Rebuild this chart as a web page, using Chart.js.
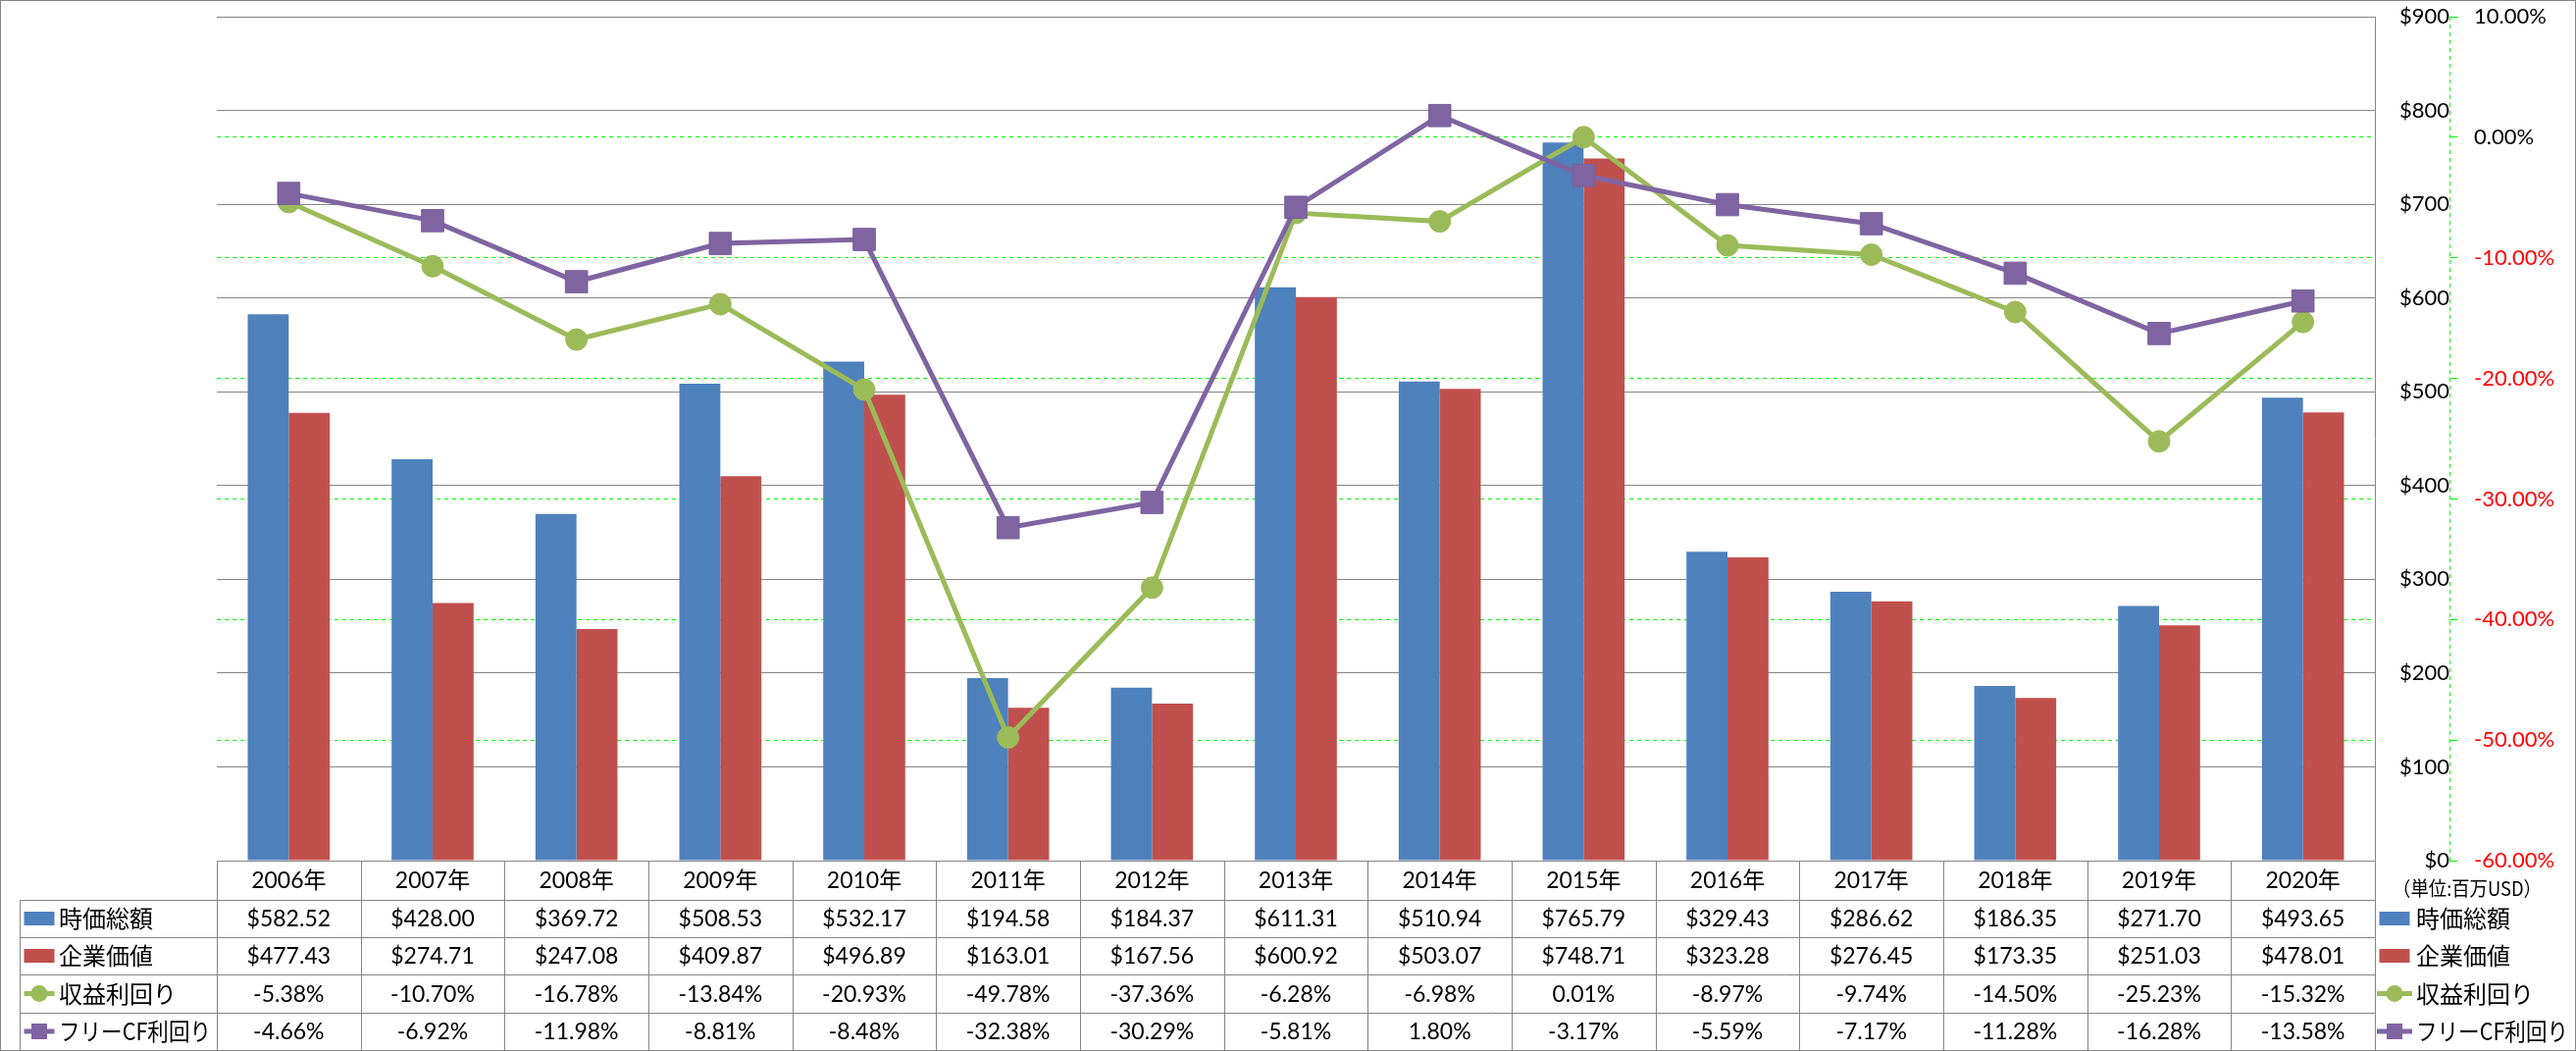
<!DOCTYPE html>
<html>
<head>
<meta charset="utf-8">
<title>時価総額・企業価値・利回り</title>
<script src="https://cdn.jsdelivr.net/npm/chart.js@4.4.1/dist/chart.umd.min.js"></script>
<style>
  html, body { margin: 0; padding: 0; background: #fff; }
  #chart { display: block; }
</style>
</head>
<body>
<canvas id="chart" width="2626" height="1071"></canvas>
<script>
// data (values in 百万USD and %)
const categories = ['2006年', '2007年', '2008年', '2009年', '2010年', '2011年', '2012年', '2013年',
                    '2014年', '2015年', '2016年', '2017年', '2018年', '2019年', '2020年'];
const marketCap = [582.52, 428.00, 369.72, 508.53, 532.17, 194.58, 184.37, 611.31,
                   510.94, 765.79, 329.43, 286.62, 186.35, 271.70, 493.65];
const enterpriseValue = [477.43, 274.71, 247.08, 409.87, 496.89, 163.01, 167.56, 600.92,
                         503.07, 748.71, 323.28, 276.45, 173.35, 251.03, 478.01];
const earningsYield = [-5.38, -10.70, -16.78, -13.84, -20.93, -49.78, -37.36, -6.28,
                       -6.98, 0.01, -8.97, -9.74, -14.50, -25.23, -15.32];
const fcfYield = [-4.66, -6.92, -11.98, -8.81, -8.48, -32.38, -30.29, -5.81,
                  1.80, -3.17, -5.59, -7.17, -11.28, -16.28, -13.58];
const seriesNames = ['時価総額', '企業価値', '収益利回り', 'フリーCF利回り'];
const dollarRange = [0, 900, 100];
const pctRange = [-60, 10, 10];
const unitNote = '（単位:百万USD）';

const colors = { blue: '#4F81BD', red: '#C0504D', green: '#9BBB59', purple: '#8064A2' };
const gridGray = '#868686';
const LATIN = "Lato, 'Noto Sans CJK JP', sans-serif";
const JP = "'Noto Sans CJK JP', sans-serif";

function squeeze(ctx, txt, x, y, sx, align) {
  ctx.save();
  ctx.translate(x, y);
  ctx.scale(sx, 1);
  ctx.textAlign = align;
  ctx.fillText(txt, 0, 0);
  ctx.restore();
}

function drawSymbol(ctx, i, cx, cy, len) {
  ctx.save();
  if (i < 2) {
    ctx.fillStyle = i === 0 ? colors.blue : colors.red;
    ctx.fillRect(cx - len / 2, cy - 7, len, 14);
  } else {
    const c = i === 2 ? colors.green : colors.purple;
    ctx.strokeStyle = c;
    ctx.fillStyle = c;
    ctx.lineWidth = 5;
    ctx.beginPath();
    ctx.moveTo(cx - len / 2, cy);
    ctx.lineTo(cx + len / 2, cy);
    ctx.stroke();
    if (i === 2) {
      ctx.beginPath();
      ctx.arc(cx, cy, 8.5, 0, Math.PI * 2);
      ctx.fill();
    } else {
      ctx.fillRect(cx - 8, cy - 8, 16, 16);
    }
  }
  ctx.restore();
}

// keep the axes from pushing the plot area down (their tick padding counts otherwise)
function fitAxis(width) {
  return s => {
    s.width = width;
    s.paddingTop = 0;
    s.paddingBottom = 0;
  };
}

const tablePlugin = {
  id: 'dataTable',
  beforeDraw(chart) {
    const ctx = chart.ctx;
    ctx.save();
    ctx.fillStyle = '#fff';
    ctx.fillRect(0, 0, chart.width, chart.height);
    ctx.restore();
  },
  afterDraw(chart) {
    const ctx = chart.ctx;
    const area = chart.chartArea;
    const xs = chart.scales.x;
    const n = categories.length;
    const w = (area.right - area.left) / n;
    const top = area.bottom;
    const edges = [top, top + 40, top + 78, top + 116, top + 155, top + 193];
    const labelLeft = 20;

    // dashed axis line for the % axis
    const pct = chart.scales.yPct;
    ctx.save();
    ctx.strokeStyle = '#00FF00';
    ctx.lineWidth = 1;
    ctx.setLineDash([4, 4]);
    ctx.beginPath();
    ctx.moveTo(Math.round(pct.left) + 0.5, area.top);
    ctx.lineTo(Math.round(pct.left) + 0.5, area.bottom);
    ctx.stroke();
    ctx.restore();

    // table grid
    ctx.save();
    ctx.strokeStyle = gridGray;
    ctx.lineWidth = 1;
    ctx.beginPath();
    ctx.moveTo(area.left, edges[0] + 0.5);
    ctx.lineTo(area.right, edges[0] + 0.5);
    for (let r = 1; r < edges.length; r++) {
      ctx.moveTo(labelLeft, edges[r] + 0.5);
      ctx.lineTo(area.right, edges[r] + 0.5);
    }
    for (let c = 0; c <= n; c++) {
      const x = Math.round(area.left + c * w) + 0.5;
      ctx.moveTo(x, edges[0]);
      ctx.lineTo(x, edges[5]);
    }
    ctx.moveTo(labelLeft + 0.5, edges[1]);
    ctx.lineTo(labelLeft + 0.5, edges[5]);
    ctx.stroke();
    ctx.restore();

    ctx.save();
    ctx.fillStyle = '#000';
    ctx.textBaseline = 'middle';

    // header row and values
    ctx.font = '23px ' + LATIN;
    const rows = [
      marketCap.map(v => '$' + v.toFixed(2)),
      enterpriseValue.map(v => '$' + v.toFixed(2)),
      earningsYield.map(v => v.toFixed(2) + '%'),
      fcfYield.map(v => v.toFixed(2) + '%')
    ];
    categories.forEach((cat, i) => {
      const cx = xs.getPixelForValue(i);
      squeeze(ctx, cat, cx, (edges[0] + edges[1]) / 2 + 1, 1, 'center');
      rows.forEach((row, r) => {
        squeeze(ctx, row[i], cx, (edges[r + 1] + edges[r + 2]) / 2 + 1, 1, 'center');
      });
    });

    // row labels with legend keys (left) and legend (right)
    seriesNames.forEach((name, r) => {
      const cy = (edges[r + 1] + edges[r + 2]) / 2;
      drawSymbol(ctx, r, 40, cy, 31);
      drawSymbol(ctx, r, 2441, cy, r < 2 ? 31 : 36);
      ctx.fillStyle = '#000';
      ctx.font = '24px ' + JP;
      const tw = ctx.measureText(name).width;
      const sx = Math.min(1, 155 / tw);
      squeeze(ctx, name, 60, cy, sx, 'left');
      squeeze(ctx, name, 2463, cy, sx, 'left');
    });

    ctx.font = '20px ' + JP;
    const nw = ctx.measureText(unitNote).width;
    squeeze(ctx, unitNote, 2515, edges[0] + 28, Math.min(1, 152 / nw), 'center');
    ctx.restore();

    // outer frame
    ctx.save();
    ctx.strokeStyle = gridGray;
    ctx.lineWidth = 1;
    ctx.strokeRect(0.5, 0.5, chart.width - 1, chart.height - 1);
    ctx.restore();
  }
};

new Chart(document.getElementById('chart'), {
  type: 'bar',
  data: {
    labels: categories,
    datasets: [
      {
        type: 'line', label: seriesNames[3], data: fcfYield, yAxisID: 'yPct', order: 1,
        borderColor: colors.purple, backgroundColor: colors.purple, borderWidth: 5,
        pointStyle: 'rect', pointRadius: 16, pointBackgroundColor: colors.purple,
        pointBorderColor: '#7A5F9C', pointBorderWidth: 1
      },
      {
        type: 'line', label: seriesNames[2], data: earningsYield, yAxisID: 'yPct', order: 2,
        borderColor: colors.green, backgroundColor: colors.green, borderWidth: 5,
        pointStyle: 'circle', pointRadius: 11, pointBackgroundColor: colors.green,
        pointBorderColor: colors.green, pointBorderWidth: 1
      },
      {
        label: seriesNames[0], data: marketCap, yAxisID: 'y', order: 3,
        backgroundColor: colors.blue, categoryPercentage: 0.57, barPercentage: 1
      },
      {
        label: seriesNames[1], data: enterpriseValue, yAxisID: 'y', order: 4,
        backgroundColor: colors.red, categoryPercentage: 0.57, barPercentage: 1
      }
    ]
  },
  options: {
    responsive: false,
    animation: false,
    layout: { padding: { left: 221, right: 6, top: 15, bottom: 194 } },
    plugins: { legend: { display: false }, tooltip: { enabled: false } },
    scales: {
      x: { display: false, offset: true },
      y: {
        position: 'right', weight: 0,
        min: dollarRange[0], max: dollarRange[1],
        grid: { color: gridGray, lineWidth: 1, drawTicks: false },
        border: { display: true, color: gridGray },
        ticks: {
          stepSize: dollarRange[2], crossAlign: 'far', padding: 20,
          color: '#000', font: { family: LATIN, size: 22 },
          callback: v => '$' + v
        },
        afterFit: fitAxis(76)
      },
      yPct: {
        position: 'right', weight: 1,
        min: pctRange[0], max: pctRange[1],
        grid: {
          color: c => (c.tick && (c.tick.value === pctRange[0] || c.tick.value === pctRange[1])) ? 'rgba(0,0,0,0)' : '#00FF00',
          tickColor: '#00FF00', tickLength: 8, lineWidth: 1
        },
        border: { display: false, dash: [4, 4] },
        ticks: {
          stepSize: pctRange[2], padding: 17,
          color: c => c.tick.value < 0 ? '#FF0000' : '#000',
          font: { family: LATIN, size: 22 },
          callback: v => v.toFixed(2) + '%'
        },
        afterFit: fitAxis(123)
      }
    }
  },
  plugins: [tablePlugin]
});
</script>
</body>
</html>
